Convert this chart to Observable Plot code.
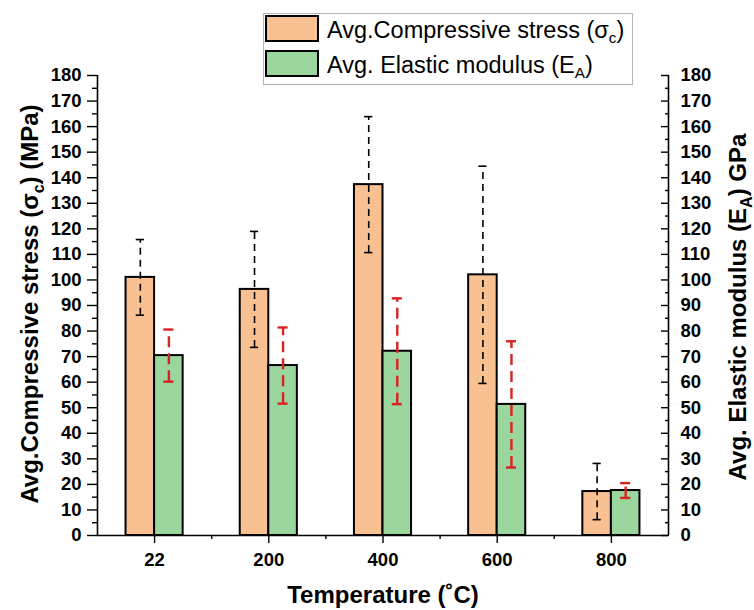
<!DOCTYPE html>
<html>
<head>
<meta charset="utf-8">
<script src="https://cdn.jsdelivr.net/npm/d3@7"></script>
<script src="https://cdn.jsdelivr.net/npm/@observablehq/plot@0.6"></script>
<style>
  html, body { margin: 0; padding: 0; background: #fff; }
  body { font-family: "Liberation Sans", Arial, sans-serif; }
  #wrap { position: relative; width: 754px; height: 610px; }
  #legend { position: absolute; left: 263px; top: 13px; width: 370px; height: 72px;
            border: 1px solid #b4b4b4; background: #fff; box-sizing: border-box; }
  .sw { position: absolute; left: 1px; width: 54px; height: 27px; border: 2px solid #000; box-sizing: border-box; }
  .lt { position: absolute; left: 63px; font-size: 23.5px; line-height: 27px; white-space: nowrap; color: #000; }
  .lt sub { font-size: 65%; vertical-align: -0.35em; line-height: 0; }
</style>
</head>
<body>
<div id="wrap">
  <div id="chart"></div>
  <div id="legend">
    <div class="sw" style="top:1px;background:#F9C192"></div>
    <div class="lt" style="top:3px">Avg.Compressive stress (σ<sub>c</sub>)</div>
    <div class="sw" style="top:36px;background:#9AD69D"></div>
    <div class="lt" style="top:38px">Avg. Elastic modulus (E<sub>A</sub>)</div>
  </div>
</div>
<script>
// ---- data ----
const temperatures = ["22", "200", "400", "600", "800"];
const stress      = [101.0, 96.3, 137.3, 102.0, 17.2];   // MPa
const stressErr   = [14.8, 22.7, 26.6, 42.5, 11.0];
const modulus     = [70.4, 66.5, 72.1, 51.3, 17.6];      // GPa
const modulusErr  = [10.2, 14.9, 20.7, 24.7, 2.9];
const yMajorTicks = [0, 10, 20, 30, 40, 50, 60, 70, 80, 90, 100, 110, 120, 130, 140, 150, 160, 170, 180];
const yMinorTicks = [5, 15, 25, 35, 45, 55, 65, 75, 85, 95, 105, 115, 125, 135, 145, 155, 165, 175];

const orange = "#F9C192";
const green = "#9AD69D";
const red = "#D92323";

const rows = temperatures.map((t, i) => ({
  i, t,
  stress: stress[i], stressErr: stressErr[i],
  modulus: modulus[i], modulusErr: modulusErr[i]
}));
const xMajor = rows.map(d => d.i);
const xMinor = rows.slice(0, -1).map(d => d.i + 0.5);

const bw = 0.25;     // bar width in band units
const capO = 0.036;  // half cap width (black)
const capG = 0.044;  // half cap width (red)
const font = "'Liberation Sans', Arial, sans-serif";

const chart = Plot.plot({
  width: 754,
  height: 610,
  marginLeft: 97,
  marginRight: 86,
  marginTop: 75,
  marginBottom: 75,
  style: { fontFamily: font, fontSize: "18.5px", fontWeight: "bold", color: "#000", background: "#fff" },
  x: { domain: [-0.5, rows.length - 0.5], label: null },
  y: { domain: [0, 180], label: null },
  marks: [
    // bars
    Plot.rectY(rows, { x1: d => d.i - bw, x2: d => d.i, y1: 0, y2: "stress", fill: orange, stroke: "#000", strokeWidth: 2 }),
    Plot.rectY(rows, { x1: d => d.i, x2: d => d.i + bw, y1: 0, y2: "modulus", fill: green, stroke: "#000", strokeWidth: 2 }),
    // error bars (stress, black dashed)
    Plot.ruleX(rows, { x: d => d.i - bw / 2, y1: d => d.stress - d.stressErr, y2: d => d.stress + d.stressErr,
      stroke: "#000", strokeWidth: 1.6, strokeDasharray: "7,5" }),
    Plot.ruleY(rows, { y: d => d.stress + d.stressErr, x1: d => d.i - bw / 2 - capO, x2: d => d.i - bw / 2 + capO, stroke: "#000", strokeWidth: 1.6 }),
    Plot.ruleY(rows, { y: d => d.stress - d.stressErr, x1: d => d.i - bw / 2 - capO, x2: d => d.i - bw / 2 + capO, stroke: "#000", strokeWidth: 1.6 }),
    // error bars (modulus, red dashed)
    Plot.ruleX(rows, { x: d => d.i + bw / 2, y1: d => d.modulus - d.modulusErr, y2: d => d.modulus + d.modulusErr,
      stroke: red, strokeWidth: 2.4, strokeDasharray: "11,6" }),
    Plot.ruleY(rows, { y: d => d.modulus + d.modulusErr, x1: d => d.i + bw / 2 - capG, x2: d => d.i + bw / 2 + capG, stroke: red, strokeWidth: 2.4 }),
    Plot.ruleY(rows, { y: d => d.modulus - d.modulusErr, x1: d => d.i + bw / 2 - capG, x2: d => d.i + bw / 2 + capG, stroke: red, strokeWidth: 2.4 }),
    // axis lines
    Plot.ruleY([0], { stroke: "#000", strokeWidth: 1.6 }),
    Plot.ruleX([-0.5, rows.length - 0.5], { stroke: "#000", strokeWidth: 1.6 }),
    // left axis
    Plot.axisY({ anchor: "left", ticks: yMajorTicks, tickSize: 10, tickPadding: 6, strokeWidth: 1.4, fontWeight: "bold", label: null }),
    Plot.axisY({ anchor: "left", ticks: yMinorTicks, tickSize: 5, text: null, strokeWidth: 1.4, label: null }),
    // right axis (ticks inward)
    Plot.axisY({ anchor: "right", ticks: yMajorTicks, tickSize: -8, text: null, strokeWidth: 1.4, label: null }),
    Plot.axisY({ anchor: "right", ticks: yMinorTicks, tickSize: -4, text: null, strokeWidth: 1.4, label: null }),
    Plot.axisY({ anchor: "right", ticks: yMajorTicks, tickSize: 0, tickPadding: 12, fontWeight: "bold", label: null }),
    // x axis
    Plot.axisX({ ticks: xMajor, tickSize: 8, tickPadding: 9, tickFormat: i => temperatures[i], strokeWidth: 1.4, fontWeight: "bold", label: null }),
    Plot.axisX({ ticks: xMinor, tickSize: 4, text: null, strokeWidth: 1.4, label: null })
  ]
});
document.getElementById("chart").appendChild(chart);

// axis titles with subscripts
const svg = d3.select(chart);
function title(x, y, rot, parts) {
  const t = svg.append("text")
    .attr("transform", `translate(${x},${y}) rotate(${rot})`)
    .attr("text-anchor", "middle")
    .attr("font-family", font)
    .attr("font-size", 24)
    .attr("font-weight", "bold")
    .attr("fill", "#000");
  parts.forEach(p => {
    const s = t.append("tspan").text(p.text);
    if (p.sub) s.attr("font-size", 16).attr("dy", 6);
    if (p.after) s.attr("dy", -6);
  });
}
title(38, 304, -90, [{ text: "Avg.Compressive stress (σ" }, { text: "c", sub: true }, { text: ") (MPa)", after: true }]);
title(746, 307, -90, [{ text: "Avg. Elastic modulus (E" }, { text: "A", sub: true }, { text: ") GPa", after: true }]);
title(383, 603, 0, [{ text: "Temperature (˚C)" }]);
</script>
</body>
</html>
